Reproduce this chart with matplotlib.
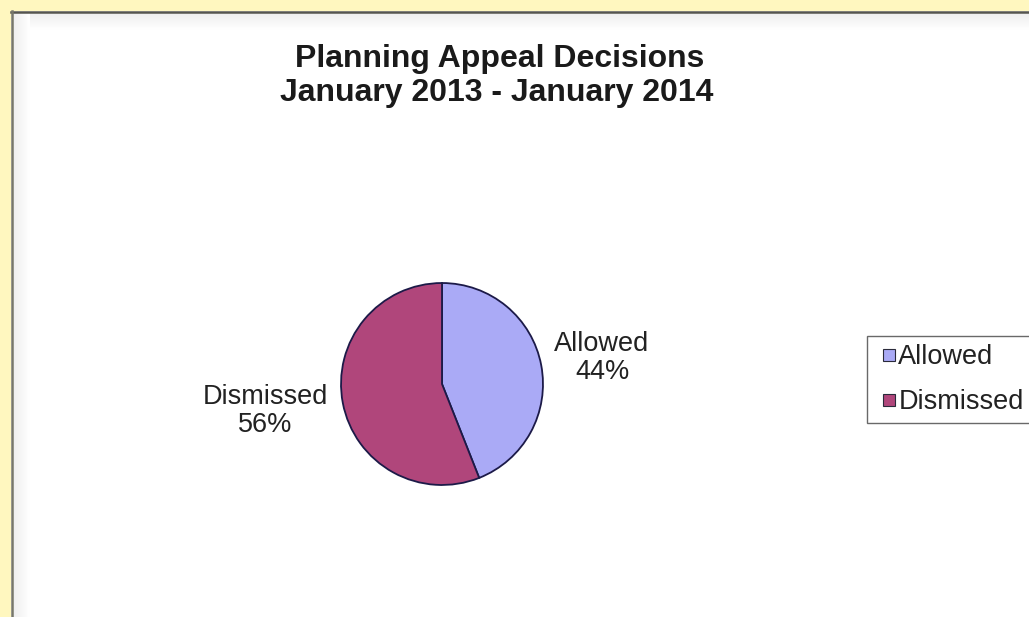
import numpy as np
import matplotlib
matplotlib.use("Agg")
import matplotlib.pyplot as plt
from matplotlib.patches import Rectangle
from matplotlib.lines import Line2D

# Data
categories = ["Allowed", "Dismissed"]
shares = [44, 56]
colors = ["#AAAAF6", "#B0467B"]
title_lines = ["Planning Appeal Decisions", "January 2013 - January 2014"]

W, H = 1029, 617
plt.rcParams["font.family"] = ["Liberation Sans", "DejaVu Sans"]

fig = plt.figure(figsize=(W / 100, H / 100), dpi=100)
fig.patch.set_facecolor("#FFF7BF")


def fx(px):
    return px / W


def fy(py):
    return 1 - py / H


# White chart panel with a dark top/left rim and a soft inner shade
fig.patches.append(Rectangle((fx(11), 0), 1, fy(11), transform=fig.transFigure,
                             facecolor="white", edgecolor="none", zorder=0))
shade = np.linspace(0.93, 1.0, 64)
ax_top = fig.add_axes([fx(13), fy(30), 1, fy(13) - fy(30)], zorder=0.5)
ax_top.imshow(shade[:, None].repeat(2, axis=1), cmap="gray", vmin=0, vmax=1,
              aspect="auto", extent=[0, 1, 1, 0])
ax_top.axis("off")
ax_left = fig.add_axes([fx(13), 0, fx(30) - fx(13), fy(13)], zorder=0.5)
ax_left.imshow(shade[None, :].repeat(2, axis=0), cmap="gray", vmin=0, vmax=1,
               aspect="auto", extent=[0, 1, 0, 1])
ax_left.axis("off")
fig.add_artist(Line2D([fx(11), 1], [fy(12), fy(12)], transform=fig.transFigure,
                      color="#55554F", lw=1.8, zorder=1))
fig.add_artist(Line2D([fx(11.8), fx(11.8)], [0, fy(11)], transform=fig.transFigure,
                      color="#77776A", lw=1.8, zorder=1))

# Title
fig.text(fx(500), fy(67), title_lines[0], ha="center", va="baseline",
         fontsize=23, fontweight="bold", color="#1A1A1A", zorder=3)
fig.text(fx(497), fy(100.5), title_lines[1], ha="center", va="baseline",
         fontsize=23, fontweight="bold", color="#1A1A1A", zorder=3)

# Pie
cx, cy, r = 442, 384, 103
ax = fig.add_axes([fx(cx - r), fy(cy + r), fx(2 * r), fy(cy - r) - fy(cy + r)], zorder=2)
wedges, _ = ax.pie(shares, colors=colors, startangle=90, counterclock=False,
                   radius=1, wedgeprops=dict(edgecolor="#1C1A48", linewidth=1.3))
ax.set_xlim(-1.02, 1.02)
ax.set_ylim(-1.02, 1.02)
ax.set_aspect("auto")
ax.axis("off")

label_pos = {"Allowed": (602, 358), "Dismissed": (265, 411)}
for name, val in zip(categories, shares):
    px, py = label_pos[name]
    fig.text(fx(px), fy(py), f"{name}\n{val}%", ha="center", va="center",
             multialignment="center", fontsize=19.5, color="#222222",
             linespacing=1.07, zorder=3)

# Legend (box runs off the right edge of the panel)
handles = [Line2D([], [], linestyle="none", marker="s", markersize=8,
                  markerfacecolor=c, markeredgecolor="#2A2A3A", markeredgewidth=0.8)
           for c in colors]
leg = fig.legend(handles, categories, loc="upper left",
                 bbox_to_anchor=(fx(867), fy(336)), bbox_transform=fig.transFigure,
                 borderaxespad=0, fontsize=19.5, handlelength=1.04,
                 handletextpad=-0.18, labelspacing=0.7, borderpad=0.3,
                 fancybox=False, frameon=True)
leg.get_frame().set_edgecolor("#444444")
leg.get_frame().set_linewidth(1.0)
for t in leg.get_texts():
    t.set_color("#222222")

fig.savefig("out.png", dpi=100, facecolor=fig.get_facecolor())
